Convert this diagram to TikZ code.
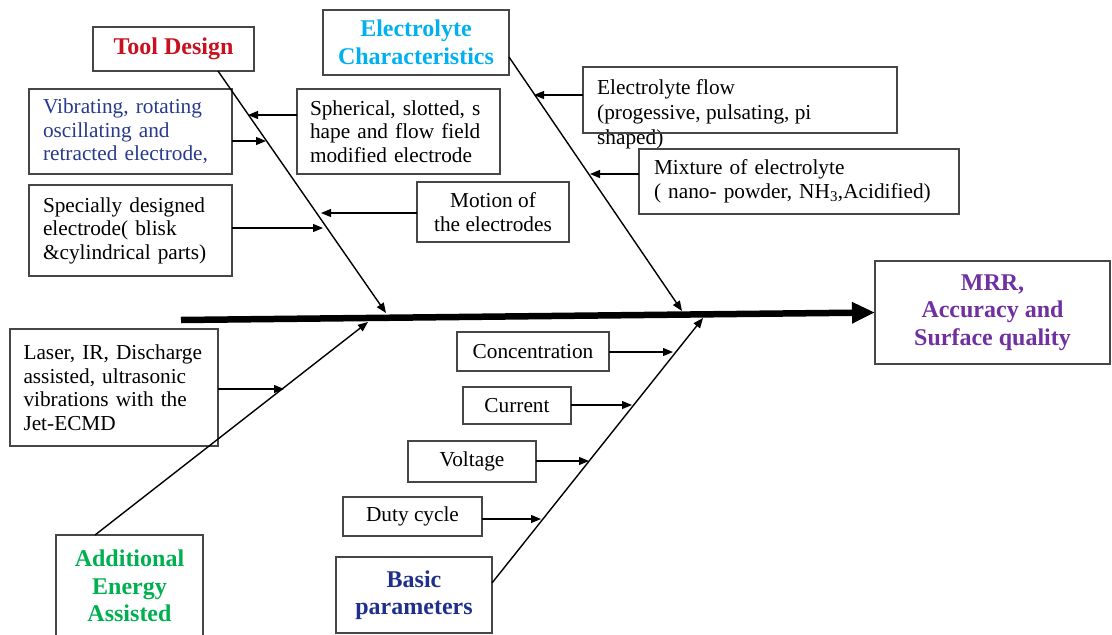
\documentclass[tikz,border=0pt]{standalone}
\usepackage{fontspec}
\setmainfont{Liberation Serif}
\usetikzlibrary{arrows.meta}
\definecolor{tdred}{RGB}{200,16,30}
\definecolor{eccyan}{RGB}{0,176,240}
\definecolor{navy}{RGB}{40,58,140}
\definecolor{aegreen}{RGB}{0,176,80}
\definecolor{bpblue}{RGB}{31,47,140}
\definecolor{mrrpurple}{RGB}{112,48,160}
\definecolor{frame}{RGB}{70,70,70}

\begin{document}
\begin{tikzpicture}[x=1pt,y=-1pt,
  box/.style={draw=frame, line width=1.4pt, inner sep=0pt, outer sep=0pt},
  body/.style={font=\fontsize{21.3}{23.5}\selectfont},
  title/.style={font=\fontsize{24}{27.5}\selectfont\bfseries, align=center},
  lbox/.style={box, body, align=left, inner xsep=14pt, text width=#1},
  arr/.style={draw=black, line width=1.1pt, -{Triangle[length=10pt,width=8pt]}},
  bone/.style={draw=black, line width=1.4pt, -{Triangle[length=10pt,width=8pt]}},
  spine/.style={draw=black, line width=6.5pt, -{Triangle[length=23pt,width=20pt]}},
]
\useasboundingbox (0,0) rectangle (1112,635);

% category heads
\node[box, title, text=tdred, minimum width=161pt, minimum height=44pt] (tool) at (173.5,49) {Tool Design};
\node[box, title, text=eccyan, minimum width=186pt, minimum height=65pt] (elec) at (416,42.5) {Electrolyte\\Characteristics};
\node[box, title, text=aegreen, minimum width=147pt, minimum height=102pt] (add) at (129.5,586) {Additional\\Energy\\Assisted};
\node[box, title, text=bpblue, minimum width=156pt, minimum height=76pt] (basic) at (414,595) {Basic\\parameters};
\node[box, title, text=mrrpurple, minimum width=235pt, minimum height=103pt] (mrr) at (992.5,312.5) {MRR,\\Accuracy and\\Surface quality};

% causes
\node[lbox=175pt, text=navy, minimum height=85pt] (vib) at (130.5,131.5) {Vibrating, rotating\\oscillating and\\retracted electrode,};
\node[lbox=177pt, inner xsep=13pt, minimum height=85pt] (sph) at (398.5,131.5) {Spherical, slotted, s\\hape and flow field\\modified electrode};
\node[lbox=175pt, minimum height=91pt] (spec) at (130.5,230.5) {Specially designed\\electrode( blisk\\\&cylindrical parts)};
\node[box, body, align=center, minimum width=152pt, minimum height=60pt] (mot) at (493,212) {Motion of\\the electrodes};
\node[font=\fontsize{21.3}{25}\selectfont, align=left, anchor=north west, inner sep=0pt] (flowtext) at (597,79.5) {Electrolyte flow\\(progessive,  pulsating, pi\\shaped)};
\node[box, minimum width=314pt, minimum height=66pt] (flow) at (740,100) {};
\node[lbox=290pt, inner xsep=15pt, minimum height=65pt] (mix) at (799,181.5) {Mixture of electrolyte\\( nano- powder, NH\textsubscript{3},Acidified)};
\node[lbox=181pt, inner xsep=13.5pt, minimum height=117pt] (laser) at (114,387.5) {Laser, IR, Discharge\\assisted, ultrasonic\\vibrations with the\\Jet-ECMD};
\node[box, body, minimum width=152pt, minimum height=39pt] (conc) at (533,351.5) {Concentration};
\node[box, body, minimum width=108pt, minimum height=37pt] (cur) at (517,405.5) {Current};
\node[box, body, minimum width=128pt, minimum height=41pt] (volt) at (472,461.5) {Voltage};
\node[box, body, minimum width=139pt, minimum height=39pt] (duty) at (412.5,516.5) {Duty cycle};

% spine and bones
\coordinate (s0) at (181,320);
\coordinate (tb) at (218,71);  \coordinate (tj) at (386,313);
\coordinate (eb) at (509,57);  \coordinate (ej) at (682,311);
\coordinate (ab) at (95,535);  \coordinate (aj) at (368,322);
\coordinate (bb) at (492,583); \coordinate (bj) at (703,318);

\draw[spine] (s0) -- (mrr.west);
\draw[bone] (tb) -- (tj);
\draw[bone] (eb) -- (ej);
\draw[bone] (ab) -- (aj);
\draw[bone] (bb) -- (bj);

% branch arrows
\coordinate (a1) at (248,115);
\coordinate (a2) at (266,141);
\coordinate (a3) at (321,213);
\coordinate (a4) at (323,228);
\coordinate (a5) at (534,95);
\coordinate (a6) at (590,174);
\coordinate (a7) at (284,389);
\coordinate (a8) at (673,352);
\coordinate (a9) at (632,405);
\coordinate (a10) at (589,461);
\coordinate (a11) at (541,519);

\draw[arr] (sph.west |- a1) -- (a1);
\draw[arr] (vib.east |- a2) -- (a2);
\draw[arr] (mot.west |- a3) -- (a3);
\draw[arr] (spec.east |- a4) -- (a4);
\draw[arr] (flow.west |- a5) -- (a5);
\draw[arr] (mix.west |- a6) -- (a6);
\draw[arr] (laser.east |- a7) -- (a7);
\draw[arr] (conc.east |- a8) -- (a8);
\draw[arr] (cur.east |- a9) -- (a9);
\draw[arr] (volt.east |- a10) -- (a10);
\draw[arr] (duty.east |- a11) -- (a11);
\end{tikzpicture}
\end{document}
